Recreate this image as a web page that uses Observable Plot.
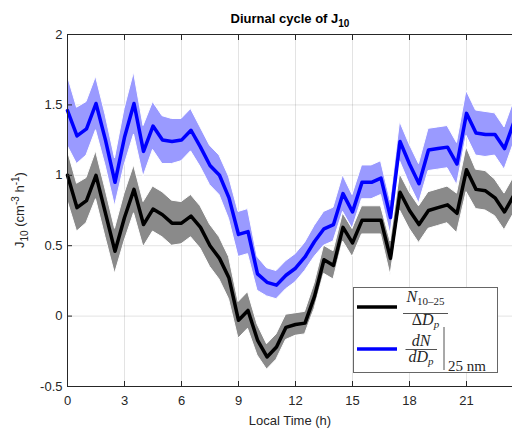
<!DOCTYPE html>
<html><head><meta charset="utf-8">
<script src="https://cdn.jsdelivr.net/npm/d3@7"></script>
<script src="https://cdn.jsdelivr.net/npm/@observablehq/plot@0.6"></script>
<style>html,body{margin:0;padding:0;background:#fff;overflow:hidden}</style>
</head><body><div id="chart"></div>
<script>
const hours = [0,0.5,1,1.5,2,2.5,3,3.5,4,4.5,5,5.5,6,6.5,7,7.5,8,8.5,9,9.5,10,10.5,11,11.5,
  12,12.5,13,13.5,14,14.5,15,15.5,16,16.5,17,17.5,18,18.5,19,19.5,20,20.5,21,21.5,22,22.5,23,23.5];
// N(10-25)/ΔDp  (black)
const nMean = [1.00,0.77,0.82,1.00,0.73,0.46,0.70,0.90,0.65,0.76,0.72,0.66,0.66,0.71,0.63,0.50,0.41,0.27,-0.03,0.04,-0.17,-0.29,-0.22,-0.08,
  -0.06,-0.05,0.14,0.40,0.36,0.63,0.52,0.68,0.68,0.68,0.41,0.88,0.75,0.65,0.75,0.77,0.79,0.73,1.04,0.90,0.89,0.84,0.74,0.86];
const nErr = [0.18,0.17,0.16,0.17,0.17,0.16,0.17,0.17,0.16,0.16,0.16,0.16,0.15,0.15,0.15,0.15,0.15,0.15,0.13,0.13,0.11,0.09,0.09,0.09,
  0.08,0.08,0.09,0.10,0.10,0.10,0.10,0.10,0.10,0.10,0.12,0.13,0.13,0.13,0.13,0.13,0.13,0.14,0.16,0.14,0.14,0.13,0.13,0.13];
// dN/dDp at 25 nm (blue)
const dMean = [1.46,1.28,1.33,1.51,1.25,0.95,1.27,1.51,1.17,1.35,1.25,1.24,1.25,1.32,1.20,1.07,1.00,0.84,0.58,0.60,0.30,0.24,0.22,0.29,
  0.34,0.42,0.53,0.62,0.65,0.87,0.74,0.95,0.95,0.98,0.70,1.24,1.08,0.94,1.18,1.19,1.20,1.08,1.44,1.30,1.29,1.29,1.19,1.38];
const dErr = [0.25,0.20,0.19,0.19,0.18,0.17,0.20,0.22,0.18,0.17,0.17,0.16,0.15,0.15,0.14,0.14,0.14,0.15,0.16,0.16,0.12,0.10,0.10,0.10,
  0.10,0.10,0.11,0.12,0.12,0.13,0.12,0.12,0.12,0.12,0.12,0.14,0.14,0.14,0.15,0.15,0.15,0.15,0.16,0.16,0.16,0.15,0.15,0.15];
const xTicks = [0,3,6,9,12,15,18,21];
const yTicks = [-0.5,0,0.5,1,1.5,2];

const rows = hours.map((h,i)=>({h, n:nMean[i], nLo:nMean[i]-nErr[i], nHi:nMean[i]+nErr[i],
  d:dMean[i], dLo:dMean[i]-dErr[i], dHi:dMean[i]+dErr[i]}));

const ink = "#262626";
const chart = Plot.plot({
  width: 512, height: 430,
  marginLeft: 67, marginTop: 34, marginBottom: 44, marginRight: -11,
  x: {domain: [0, 24]},
  y: {domain: [-0.5, 2]},
  style: {fontFamily: "'Liberation Sans', Arial, sans-serif", fontSize: "13px", color: ink, background: "#fff", overflow: "hidden"},
  marks: [
    Plot.gridX(xTicks, {stroke: ink, strokeOpacity: 0.13}),
    Plot.gridY(yTicks, {stroke: ink, strokeOpacity: 0.13}),
    Plot.areaY(rows, {x: "h", y1: "nLo", y2: "nHi", fill: "#8a8a8a", stroke: "white", strokeWidth: 1}),
    Plot.areaY(rows, {x: "h", y1: "dLo", y2: "dHi", fill: "#9a9aff", stroke: "white", strokeWidth: 1}),
    Plot.lineY(rows, {x: "h", y: "n", stroke: "#000", strokeWidth: 3.5}),
    Plot.lineY(rows, {x: "h", y: "d", stroke: "#0000ff", strokeWidth: 3.5}),
    Plot.frame({stroke: ink}),
    Plot.axisX(xTicks, {anchor: "bottom", tickSize: -5, tickPadding: 14, label: null, tickFormat: d => String(d), stroke: ink, fill: ink}),
    Plot.axisX(xTicks, {anchor: "top", tickSize: -5, label: null, tickFormat: () => "", stroke: ink}),
    Plot.axisY(yTicks, {anchor: "left", tickSize: -5, tickPadding: 10, label: null, tickFormat: d => String(d), stroke: ink, fill: ink})
  ]
});
document.getElementById("chart").appendChild(chart);

const svg = d3.select(chart);
const sans = "'Liberation Sans', Arial, sans-serif";
const serif = "'Liberation Serif', 'DejaVu Serif', serif";
// Title
const t = svg.append("text").attr("x", 290).attr("y", 23).attr("text-anchor", "middle")
  .attr("font-family", sans).attr("font-size", 13).attr("font-weight", "bold").attr("fill", "#000");
t.append("tspan").text("Diurnal cycle of J");
t.append("tspan").attr("font-size", 10).attr("dy", 4).text("10");
// X label
svg.append("text").attr("x", 290).attr("y", 425).attr("text-anchor", "middle")
  .attr("font-family", sans).attr("font-size", 13).attr("fill", ink).text("Local Time (h)");
// Y label
const yl = svg.append("text").attr("transform", "translate(24,210) rotate(-90)").attr("text-anchor", "middle")
  .attr("font-family", sans).attr("font-size", 13).attr("fill", ink);
yl.append("tspan").text("J");
yl.append("tspan").attr("font-size", 10).attr("dy", 4).text("10");
yl.append("tspan").attr("dy", -4).text(" (cm");
yl.append("tspan").attr("font-size", 10).attr("dy", -5).text("-3");
yl.append("tspan").attr("dy", 5).text(" h");
yl.append("tspan").attr("font-size", 10).attr("dy", -5).text("-1");
yl.append("tspan").attr("dy", 5).text(")");

// Legend
const lg = svg.append("g");
lg.append("rect").attr("x", 353.5).attr("y", 287.5).attr("width", 144).attr("height", 85)
  .attr("fill", "white").attr("stroke", "#666").attr("stroke-width", 1);
lg.append("line").attr("x1", 357).attr("x2", 397).attr("y1", 307).attr("y2", 307).attr("stroke", "#000").attr("stroke-width", 3.5);
lg.append("line").attr("x1", 357).attr("x2", 397).attr("y1", 349).attr("y2", 349).attr("stroke", "#0000ff").attr("stroke-width", 3.5);
function txt(x, y, anchor) {
  return lg.append("text").attr("x", x).attr("y", y).attr("text-anchor", anchor)
    .attr("font-family", serif).attr("font-size", 16).attr("fill", ink);
}
// fraction 1
let a = txt(425.5, 302, "middle");
a.append("tspan").attr("font-style", "italic").text("N");
a.append("tspan").attr("font-size", 11).attr("dy", 3).text("10–25");
lg.append("line").attr("x1", 403).attr("x2", 448).attr("y1", 313.5).attr("y2", 313.5).attr("stroke", ink).attr("stroke-width", 0.8);
a = txt(425.5, 325, "middle");
a.append("tspan").text("Δ");
a.append("tspan").attr("font-style", "italic").text("D");
a.append("tspan").attr("font-size", 11).attr("font-style", "italic").attr("dy", 3).text("p");
// fraction 2
a = txt(421, 345.5, "middle");
a.append("tspan").attr("font-style", "italic").text("dN");
lg.append("line").attr("x1", 405.5).attr("x2", 437).attr("y1", 349.5).attr("y2", 349.5).attr("stroke", ink).attr("stroke-width", 0.8);
a = txt(421, 361.5, "middle");
a.append("tspan").attr("font-style", "italic").text("dD");
a.append("tspan").attr("font-size", 11).attr("font-style", "italic").attr("dy", 3).text("p");
lg.append("line").attr("x1", 444).attr("x2", 444).attr("y1", 327).attr("y2", 370).attr("stroke", ink).attr("stroke-width", 0.8);
txt(448, 370.5, "start").attr("font-size", 15).text("25 nm");
</script>
</body></html>
